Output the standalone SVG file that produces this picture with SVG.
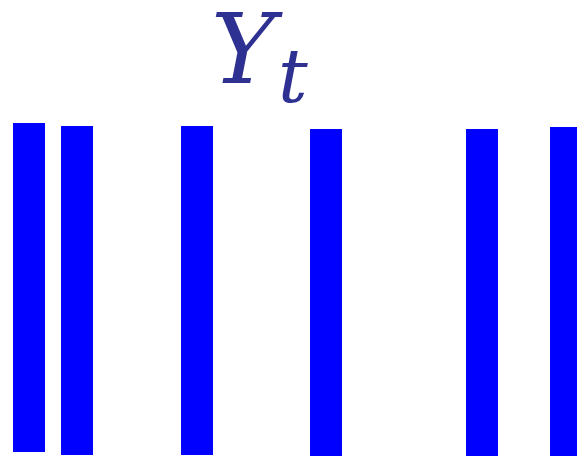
<svg xmlns="http://www.w3.org/2000/svg" width="577" height="456" viewBox="0 0 577 456">
<style>
.bar{fill:#0000ff}
.lbl{fill:#2e3192;font-family:"DejaVu Serif","Liberation Serif",serif;font-style:italic}
</style>
<rect width="577" height="456" fill="#ffffff"/>
<g id="label"><text class="lbl" x="211" y="83" font-size="97">Y</text><text class="lbl" x="278" y="102" font-size="74">t</text></g>
<g id="bar1"><rect class="bar" x="13" y="123" width="32" height="329"/></g>
<g id="bar2"><rect class="bar" x="61" y="126" width="32" height="329"/></g>
<g id="bar3"><rect class="bar" x="181" y="126" width="32" height="329"/></g>
<g id="bar4"><rect class="bar" x="310" y="129" width="32" height="327"/></g>
<g id="bar5"><rect class="bar" x="466" y="129" width="32" height="327"/></g>
<g id="bar6"><rect class="bar" x="550" y="127" width="32" height="329"/></g>
<g id="connectors"/>
</svg>
